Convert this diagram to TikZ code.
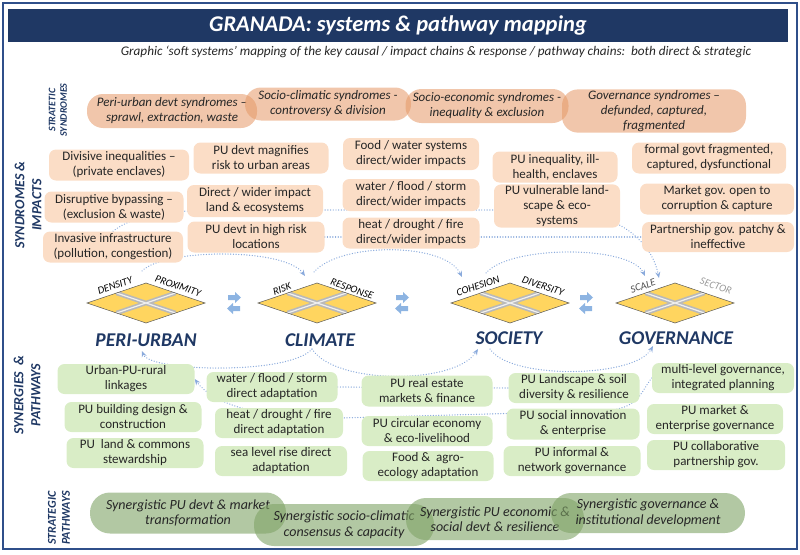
\documentclass[tikz,border=0pt]{standalone}
\usepackage{fontspec}
\setmainfont{Carlito}
\usetikzlibrary{arrows.meta,backgrounds}
\definecolor{navy}{HTML}{1F3864}
\definecolor{frameC}{HTML}{2F4F8A}
\definecolor{synC}{HTML}{E59866}
\definecolor{impC}{HTML}{FBDDC6}
\definecolor{pwC}{HTML}{D9EDC6}
\definecolor{spC}{HTML}{7FA366}
\definecolor{connC}{HTML}{8AAADC}
\definecolor{diaC}{HTML}{FFD55F}
\definecolor{arrC}{HTML}{8DB4E2}
\definecolor{txtC}{HTML}{262626}
\newcommand\dcluster[1]{%
  \begin{scope}[shift={#1}]
    \fill[diaC] (-59,0) -- (0,-20) -- (59,0) -- (0,20) -- cycle;
    \begin{scope}
      \clip (-59,0) -- (0,-20) -- (59,0) -- (0,20) -- cycle;
      \draw[gray!55, line width=4.5pt] (-29.5,-10) -- (29.5,10) (29.5,-10) -- (-29.5,10);
      \draw[gray!12, line width=1.2pt] (-29.5,-10) -- (29.5,10) (29.5,-10) -- (-29.5,10);
    \end{scope}
    \draw[gray!70!black, line width=0.5pt] (-59,0) -- (0,-20) -- (59,0) -- (0,20) -- cycle;
  \end{scope}}
\newcommand\swapicon[1]{%
  \begin{scope}[shift={#1}]
    \fill[arrC] (-6,-8) -- (1,-8) -- (1,-11) -- (7,-5.5) -- (1,0) -- (1,-3) -- (-6,-3) -- cycle;
    \fill[arrC] (6,3) -- (-1,3) -- (-1,0) -- (-7,5.5) -- (-1,11) -- (-1,8) -- (6,8) -- cycle;
  \end{scope}}
\begin{document}
\begin{tikzpicture}[x=1pt,y=-1pt,
  base/.style={align=center, inner sep=1pt, text=txtC, font=\fontsize{13}{15}\selectfont},
  imp/.style={base, fill=impC, rounded corners=7pt},
  pw/.style={base, fill=pwC, rounded corners=7pt},
  syn/.style={base, fill=synC, fill opacity=0.55, text opacity=1, rounded corners=16pt, font=\fontsize{13}{15}\selectfont\itshape},
  spw/.style={base, fill=spC, fill opacity=0.6, text opacity=1, rounded corners=20pt, font=\fontsize{14}{15.5}\selectfont\itshape},
  conn/.style={draw=connC, line width=1.3pt, dash pattern=on 0.1pt off 2.6pt, line cap=round},
  arr/.style={-{Stealth[length=6pt,width=5pt]}},
  sidelab/.style={rotate=90, align=center, text=navy},
  biglab/.style={text=navy, font=\fontsize{19.5}{20}\selectfont\bfseries\itshape},
  elabel/.style={font=\fontsize{10.5}{12}\selectfont\itshape, text=black, inner sep=0pt}]
\useasboundingbox (0,0) rectangle (800,554);
\draw[frameC, line width=1.2pt] (3,3) rectangle (797,549);
% title
\node[fill=navy, minimum width=780pt, minimum height=33pt, inner sep=0pt, text=white,
      font=\fontsize{22.5}{24}\selectfont\bfseries\itshape] (title) at (398,25.5) {GRANADA: systems \& pathway mapping};
\node[font=\fontsize{13.2}{15}\selectfont\itshape, text=txtC] (sub) at (436,52)
  {Graphic ‘soft systems’ mapping of the key causal / impact chains \& response / pathway chains:\ \ both direct \& strategic};
% side labels
\node[sidelab, font=\fontsize{10}{11.5}\selectfont\bfseries\itshape] (lab1) at (58,110) {STRATETIC\\SYNDROMES};
\node[sidelab, font=\fontsize{14}{17}\selectfont\bfseries\itshape] (lab2) at (28,205) {SYNDROMES \&\\IMPACTS};
\node[sidelab, font=\fontsize{14}{17}\selectfont\bfseries\itshape] (lab3) at (27,395) {SYNERGIES\ \ \&\\PATHWAYS};
\node[sidelab, font=\fontsize{12}{14}\selectfont\bfseries\itshape] (lab4) at (59,518) {STRATEGIC\\PATHWAYS};
% strategic syndromes
\node[syn, minimum width=170pt, minimum height=34pt] (s1) at (172,111) {Peri-urban devt syndromes –\\sprawl, extraction, waste};
\node[syn, minimum width=166pt, minimum height=33pt] (s2) at (328,104) {Socio-climatic syndromes -\\controversy \& division};
\node[syn, minimum width=163pt, minimum height=34pt] (s3) at (487,106) {Socio-economic syndromes -\\inequality \& exclusion};
\node[syn, minimum width=184pt, minimum height=37pt] (s4) at (654,111) {Governance syndromes –\\defunded, captured,\\fragmented};
% impacts
\node[imp, minimum width=140pt, minimum height=31pt] (i11) at (119,165) {Divisive inequalities –\\(private enclaves)};
\node[imp, minimum width=139pt, minimum height=31pt] (i12) at (114,207) {Disruptive bypassing –\\(exclusion \& waste)};
\node[imp, minimum width=140pt, minimum height=31pt] (i13) at (113,247) {Invasive infrastructure\\(pollution, congestion)};
\node[imp, minimum width=135pt, minimum height=31pt] (i21) at (261,158) {PU devt magnifies\\risk to urban areas};
\node[imp, minimum width=136pt, minimum height=32pt] (i22) at (255,201) {Direct / wider impact\\land \& ecosystems};
\node[imp, minimum width=137pt, minimum height=31pt] (i23) at (256,237) {PU devt in high risk\\locations};
\node[imp, minimum width=136pt, minimum height=32pt] (i31) at (411,154) {Food / water systems\\direct/wider impacts};
\node[imp, minimum width=137pt, minimum height=32pt] (i32) at (411,195) {water / flood / storm\\direct/wider impacts};
\node[imp, minimum width=137pt, minimum height=31pt] (i33) at (411,233) {heat / drought / fire\\direct/wider impacts};
\node[imp, minimum width=125pt, minimum height=31pt] (i41) at (555,167) {PU inequality, ill-\\health, enclaves};
\node[imp, minimum width=126pt, minimum height=33pt] (i42) at (557,206) {PU vulnerable land-\\scape \& eco-\\systems};
\node[imp, minimum width=154pt, minimum height=31pt] (i51) at (709,158) {formal govt fragmented,\\captured, dysfunctional};
\node[imp, minimum width=154pt, minimum height=31pt] (i52) at (717,199) {Market gov. open to\\corruption \& capture};
\node[imp, minimum width=152pt, minimum height=30pt] (i53) at (718,237) {Partnership gov. patchy \&\\ineffective};
% pathways
\node[pw, minimum width=137pt, minimum height=30pt] (p11) at (126,379) {Urban-PU-rural\\linkages};
\node[pw, minimum width=137pt, minimum height=30pt] (p12) at (133,417) {PU building design \&\\construction};
\node[pw, minimum width=137pt, minimum height=30pt] (p13) at (135,453) {PU\ \ land \& commons\\stewardship};
\node[pw, minimum width=131pt, minimum height=30pt] (p21) at (272,387) {water / flood / storm\\direct adaptation};
\node[pw, minimum width=128pt, minimum height=30pt] (p22) at (279,423) {heat / drought / fire\\direct adaptation};
\node[pw, minimum width=132pt, minimum height=30pt] (p23) at (281,461) {sea level rise direct\\adaptation};
\node[pw, minimum width=131pt, minimum height=31pt] (p31) at (427,391) {PU real estate\\markets \& finance};
\node[pw, minimum width=131pt, minimum height=30pt] (p32) at (427,431) {PU circular economy\\\& eco-livelihood};
\node[pw, minimum width=131pt, minimum height=30pt] (p33) at (428,466) {Food \&\ \ agro-\\ecology adaptation};
\node[pw, minimum width=131pt, minimum height=30pt] (p41) at (574,388) {PU Landscape \& soil\\diversity \& resilience};
\node[pw, minimum width=133pt, minimum height=31pt] (p42) at (573,424) {PU social innovation\\\& enterprise};
\node[pw, minimum width=137pt, minimum height=30pt] (p43) at (572,461) {PU informal \&\\network governance};
\node[pw, minimum width=142pt, minimum height=30pt] (p51) at (723,378) {multi-level governance,\\integrated planning};
\node[pw, minimum width=136pt, minimum height=30pt] (p52) at (715,419) {PU market \&\\enterprise governance};
\node[pw, minimum width=138pt, minimum height=30pt] (p53) at (716,455) {PU collaborative\\partnership gov.};
% strategic pathways
\node[spw, minimum width=196pt, minimum height=41pt] (t1) at (188,513) {Synergistic PU devt \& market\\transformation};
\node[spw, minimum width=180pt, minimum height=42pt] (t2) at (344,525) {Synergistic socio-climatic\\consensus \& capacity};
\node[spw, minimum width=178pt, minimum height=42pt] (t3) at (495,519) {Synergistic PU economic \&\\social devt \& resilience};
\node[spw, minimum width=194pt, minimum height=40pt] (t4) at (648,513) {Synergistic governance \&\\institutional development};
% clusters
\dcluster{(146,303)}
\dcluster{(317,303)}
\dcluster{(510,303)}
\dcluster{(675,303)}
\node[elabel, rotate=19] (lDen) at (115,285.5) {DENSITY};
\node[elabel, rotate=-19] (lProx) at (178,286) {PROXIMITY};
\node[elabel, rotate=19] (lRisk) at (282,289) {RISK};
\node[elabel, rotate=-19] (lResp) at (352,289) {RESPONSE};
\node[elabel, rotate=19] (lCoh) at (478,286) {COHESION};
\node[elabel, rotate=-19] (lDiv) at (543,286) {DIVERSITY};
\node[elabel, rotate=19, text=black!70] (lScale) at (643,286) {SCALE};
\node[elabel, rotate=-19, text=black!40] (lSect) at (716,286) {SECTOR};
\node[biglab] (peri) at (146,340) {PERI-URBAN};
\node[biglab] (clim) at (320,340) {CLIMATE};
\node[biglab] (soc) at (509,338) {SOCIETY};
\node[biglab] (gov) at (676,338) {GOVERNANCE};
\swapicon{(234,303)}
\swapicon{(402,303)}
\swapicon{(586,303)}
% connector end points
\coordinate (pT) at (142,271);
\coordinate (cTin) at (305,276);
\coordinate (cTout) at (314,272);
\coordinate (sTin) at (462,277);
\coordinate (sTout) at (486,273);
\coordinate (gTin) at (645,276);
\coordinate (gTin2) at (659,278);
\coordinate (pB) at (142,351);
\coordinate (cB) at (312,349);
\coordinate (sB1) at (478,349);
\coordinate (sB2) at (490,349);
\coordinate (gB) at (653,346);
\begin{scope}[on background layer]
\draw[conn,arr] (pT) .. controls (165,248) and (285,248) .. (cTin);
\draw[conn,arr] (cTout) .. controls (340,242) and (445,242) .. (sTin);
\draw[conn,arr] (sTout) .. controls (510,245) and (630,245) .. (gTin);
\draw[conn,arr] (i13.north) .. controls (135,214) and (170,210) .. (230,210) -- (560,210) .. controls (610,212) and (650,235) .. (gTin2);
\draw[conn] (i23.east) -- (i53.west);
\draw[conn,arr] (cB) .. controls (290,375) and (150,372) .. (pB);
\draw[conn,arr] (cB) .. controls (335,385) and (455,385) .. (sB1);
\draw[conn,arr] (sB2) .. controls (510,380) and (635,378) .. (gB);
\draw[conn,arr] (p51.west) .. controls (640,392) and (640,410) .. (600,411) -- (340,418) .. controls (250,420) and (210,400) .. (p11.east);
\draw[conn] (p21.east) -- (p41.west);
\end{scope}
\end{tikzpicture}
\end{document}
